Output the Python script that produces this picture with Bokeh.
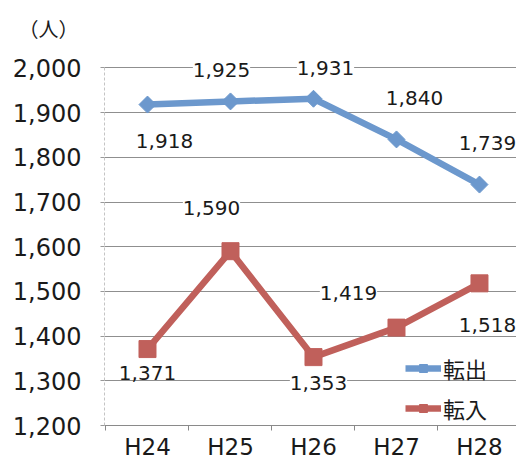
import math
from bokeh.plotting import figure
from bokeh.models import (ColumnDataSource, Range1d, FixedTicker, SingleIntervalTicker,
                          NumeralTickFormatter, LabelSet, Legend, LegendItem, Title)
from bokeh.core.properties import value
from bokeh.embed import file_html
from bokeh.resources import INLINE

years = ["H24", "H25", "H26", "H27", "H28"]
tenshutsu = [1918, 1925, 1931, 1840, 1739]   # 転出
tennyu = [1371, 1590, 1353, 1419, 1518]      # 転入
series_names = ["転出", "転入"]
unit_text = "（人）"

# label placement (pixels) - layout only
out_dx = [17, -9, 12, 18, 8]
out_dy = [-36, 31, 31, 41, 42]
in_dx = [0, -19, 5, -48, 8]
in_dy = [-24, 43, -26, 35, -42]

BLUE = "#6c98cd"
RED = "#c0605b"
NUM_FONT = "DejaVu Sans"
CJK_FONT = "Noto Sans CJK JP"

xs = list(range(len(years)))

p = figure(frame_width=412, frame_height=371, output_backend="svg", toolbar_location=None,
           x_range=Range1d(-0.518, 4.446), y_range=Range1d(1200, 2030),
           min_border_left=104, min_border_right=0, min_border_top=54, min_border_bottom=34)
p.outline_line_color = None
p.background_fill_color = "white"

# axes
p.xaxis.ticker = FixedTicker(ticks=xs, minor_ticks=[i + 0.5 for i in xs[:-1]] + [-0.5])
p.xaxis.major_label_overrides = {i: y for i, y in zip(xs, years)}
p.xaxis.major_tick_line_color = None
p.xaxis.major_tick_out = 0
p.xaxis.major_tick_in = 0
p.xaxis.minor_tick_out = 5
p.xaxis.minor_tick_in = 0
p.xaxis.minor_tick_line_color = "#888888"
p.xaxis.axis_line_color = "#8a8a8a"
p.xaxis.major_label_text_font = NUM_FONT
p.xaxis.major_label_text_font_size = "23px"
p.xaxis.major_label_text_color = "#1a1a1a"
p.xaxis.major_label_standoff = 3

p.yaxis.ticker = SingleIntervalTicker(interval=100)
p.yaxis.bounds = (1200, 2000)
p.yaxis.formatter = NumeralTickFormatter(format="0,0")
p.yaxis.minor_tick_line_color = None
p.yaxis.major_tick_out = 4
p.yaxis.major_tick_in = 0
p.yaxis.major_tick_line_color = "#999999"
p.yaxis.axis_line_color = "#c4c4c4"
p.yaxis.axis_line_dash = "3 2"
p.yaxis.major_label_text_font = NUM_FONT
p.yaxis.major_label_text_font_size = "24px"
p.yaxis.major_label_text_color = "#1a1a1a"
p.yaxis.major_label_standoff = 19

p.xgrid.grid_line_color = None
p.ygrid.grid_line_color = "#8f8f8f"
p.ygrid.grid_line_width = 1

src_out = ColumnDataSource(dict(x=xs, y=tenshutsu, t=[f"{v:,}" for v in tenshutsu], dx=out_dx, dy=out_dy))
src_in = ColumnDataSource(dict(x=xs, y=tennyu, t=[f"{v:,}" for v in tennyu], dx=in_dx, dy=in_dy))

l1 = p.line("x", "y", source=src_out, line_color=BLUE, line_width=6.5)
m1 = p.scatter("x", "y", source=src_out, marker="square", angle=math.pi / 4, size=12,
               fill_color=BLUE, line_color=BLUE)
l2 = p.line("x", "y", source=src_in, line_color=RED, line_width=6.5)
m2 = p.scatter("x", "y", source=src_in, marker="square", size=17,
               fill_color=RED, line_color=RED)

for src in (src_out, src_in):
    p.add_layout(LabelSet(x="x", y="y", text="t", source=src, x_offset="dx", y_offset="dy",
                          text_align="center", text_baseline="middle",
                          text_font=value(NUM_FONT), text_font_size=value("20px"),
                          text_color="#1a1a1a",
                          background_fill_color="white", background_fill_alpha=1.0))

legend = Legend(items=[LegendItem(label=series_names[0], renderers=[l1, m1]),
                       LegendItem(label=series_names[1], renderers=[l2, m2])],
                location=(301, 1), orientation="vertical")
legend.background_fill_alpha = 0
legend.border_line_color = None
legend.padding = 0
legend.margin = 0
legend.spacing = 8
legend.glyph_width = 36
legend.glyph_height = 20
legend.label_height = 20
legend.label_standoff = 2
legend.label_text_font = CJK_FONT
legend.label_text_font_size = "22px"
legend.label_text_color = "#1a1a1a"
legend.label_text_baseline = "middle"
p.add_layout(legend)

title = Title(text=unit_text, align="left", offset=-86, standoff=23,
              text_font=CJK_FONT, text_font_size="20px", text_font_style="normal",
              text_color="#1a1a1a")
p.add_layout(title, "above")

open("out.html", "w").write(file_html(p, INLINE))
